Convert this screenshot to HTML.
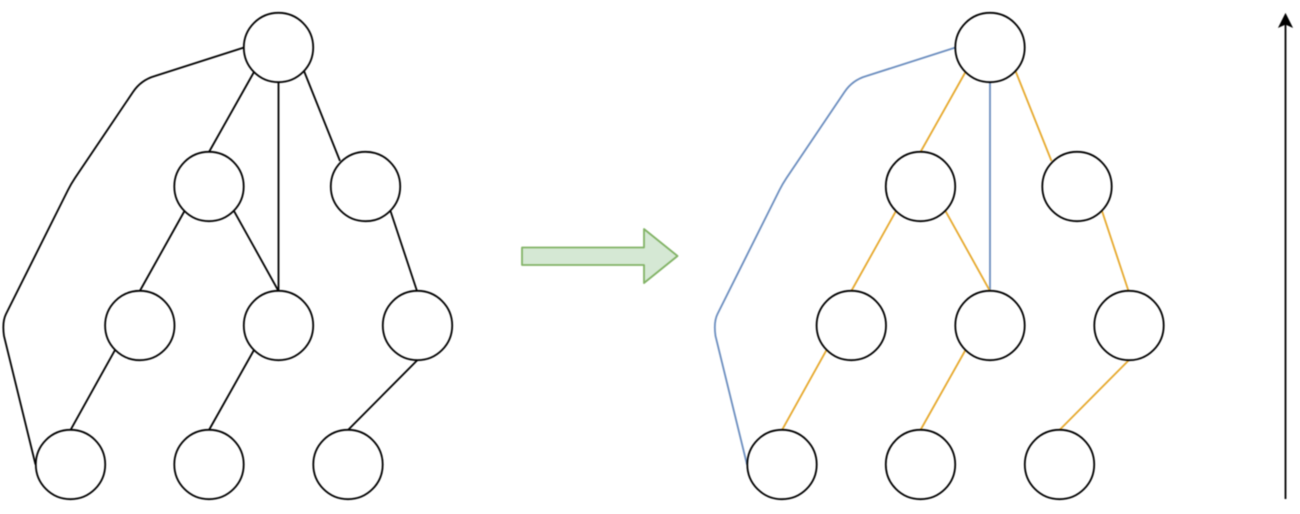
<!DOCTYPE html>
<html>
<head>
<meta charset="utf-8">
<style>
html,body{margin:0;padding:0;background:#fff;width:1300px;height:514px;overflow:hidden}
svg{display:block;filter:blur(0.4px)}
</style>
</head>
<body>
<svg width="1300" height="514" viewBox="0 0 1300 514" xmlns="http://www.w3.org/2000/svg">
<defs>
<g id="nodes" fill="#fff" stroke="#000" stroke-width="1.8">
<circle cx="278.5" cy="47.5" r="34.7"/>
<circle cx="209" cy="186.5" r="34.7"/>
<circle cx="365.5" cy="186.5" r="34.7"/>
<circle cx="139.8" cy="325.5" r="34.7"/>
<circle cx="278.5" cy="325.5" r="34.7"/>
<circle cx="417.5" cy="325.5" r="34.7"/>
<circle cx="70.5" cy="464.5" r="34.7"/>
<circle cx="209" cy="464.5" r="34.7"/>
<circle cx="348" cy="464.5" r="34.7"/>
</g>
<path id="outer" fill="none" stroke-width="1.8" d="M244 47.500 L155 76 Q141 80 133 92 L75 178 Q71 184 68 190 L6 314 Q2 322 4 336 L35.500 464.500"/>
<path id="mid" fill="none" stroke-width="1.8" d="M278.500 82 V291"/>
<path id="tree" fill="none" stroke-width="1.8" d="M254 72 L209 152 M304 71 L340 161 M184.500 211 L139.800 291 M234 211 L278.500 291 M390.500 211 L417 291 M115 350 L70.500 430 M254 350 L209 430 M417.500 360 L348 430"/>
</defs>

<use href="#outer" stroke="#000"/>
<use href="#mid" stroke="#000"/>
<use href="#tree" stroke="#000"/>
<use href="#nodes"/>

<path d="M522 247.500 H644 V229 L677.500 256 L644 283 V265 H522 Z" fill="#d5e8d4" stroke="#82b366" stroke-width="1.8" stroke-linejoin="round"/>

<g transform="translate(711.500 0)">
<use href="#outer" stroke="#6c8ebf"/>
<use href="#mid" stroke="#6c8ebf"/>
<use href="#tree" stroke="#e6a92e"/>
<use href="#nodes"/>
</g>

<path d="M1285.500 499 V24" fill="none" stroke="#000" stroke-width="1.8"/>
<path d="M1285.500 14 L1292 27 L1285.500 24 L1279 27 Z" fill="#000" stroke="#000" stroke-width="1"/>
</svg>
</body>
</html>
